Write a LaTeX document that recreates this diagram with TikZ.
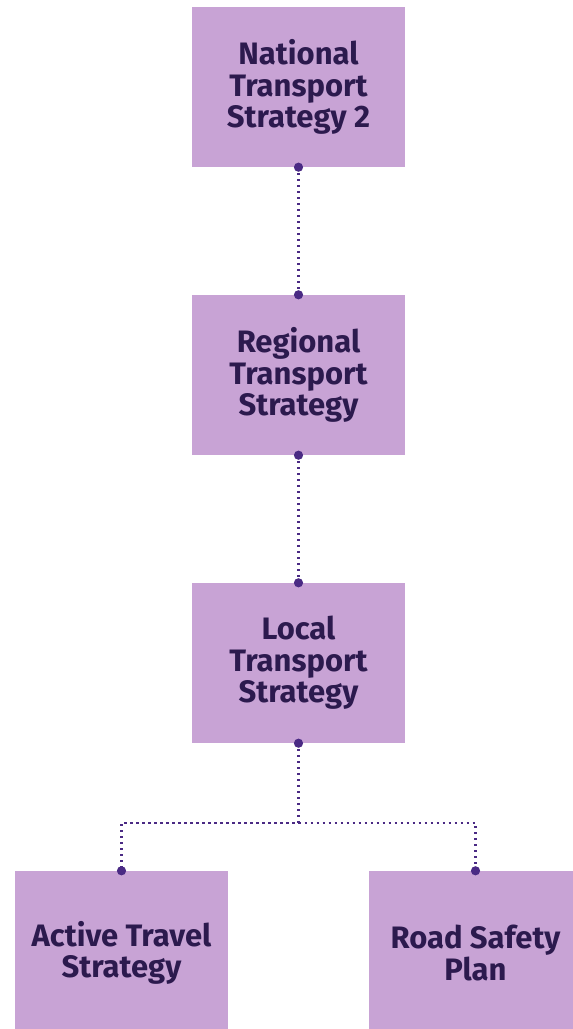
\documentclass[tikz,border=0pt]{standalone}
\usepackage{fontspec}
\setmainfont{Fira Sans}
\usepackage{xcolor}
\usetikzlibrary{calc,positioning}
\definecolor{boxfill}{HTML}{C8A3D5}
\definecolor{boxtext}{HTML}{2C1A4E}
\definecolor{linkcol}{HTML}{4A2A84}
\tikzset{%
	block/.style = {fill=boxfill, rectangle, minimum width=213pt, minimum height=160pt, inner sep=0pt, align=center, text=boxtext, font=\bfseries\fontsize{31}{31.5}\selectfont}, % Strategy box
	link/.style  = {linkcol, line width=2.2pt, dash pattern=on 2.2pt off 3.8pt}, % Dotted link
	knob/.style  = {fill=linkcol}, % End dot
}

\begin{document}
\begin{tikzpicture}[x=1pt, y=-1pt, node distance = 288pt]
	\useasboundingbox (0,0) rectangle (573,1029);
	\clip (0,0) rectangle (573,1029);
	\node[block] (nts) at (298.5,87) {National\\Transport\\Strategy 2};
	\node[block, below of=nts] (rts) {Regional\\Transport\\Strategy};
	\node[block, below of=rts] (lts) {Local\\Transport\\Strategy};
	\node[block, below of=lts, xshift=-177pt, minimum height=164pt, yshift=-2pt] (ats) {Active Travel\\Strategy};
	\node[block, below of=lts, xshift=177pt, minimum height=164pt, yshift=-2pt] (rsp) {Road Safety\\Plan};
	\draw[link] (nts.south) -- (rts.north);
	\draw[link] (rts.south) -- (lts.south |- lts.north);
	\draw[link] (lts.south) -- ++(0,80) coordinate (fork) -| (ats.north);
	\draw[link] (fork) -| (rsp.north);
	\foreach \p in {nts.south, rts.north, rts.south, lts.north, lts.south, ats.north, rsp.north}
		\fill[knob] (\p) circle (4.6pt);
\end{tikzpicture}
\end{document}
